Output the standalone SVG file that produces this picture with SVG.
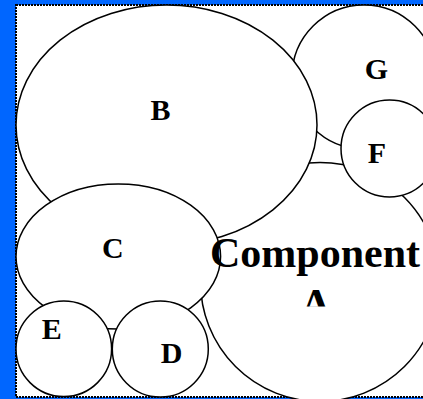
<svg xmlns="http://www.w3.org/2000/svg" width="423" height="399" viewBox="0 0 423 399">
<style>
.node{fill:#fff;stroke:#000;stroke-width:1.5}
.lbl{font-family:"Liberation Serif","Times New Roman",serif;font-weight:bold;fill:#000;text-anchor:middle}
.s{font-size:30px}
.big{font-size:42px}
</style>
<defs>
<clipPath id="clipA"><rect x="200" y="270" width="230" height="36.5"/></clipPath>
</defs>
<rect x="0" y="0" width="423" height="399" fill="#0066ff"/>
<rect x="16" y="5" width="420" height="392" fill="#fff"/>
<rect x="16" y="5" width="420" height="392" fill="none" stroke="#000" stroke-width="2" stroke-dasharray="2 1"/>
<g id="connectors"/>
<g id="node-G"><circle class="node" cx="364" cy="77" r="72"/></g>
<g id="node-A"><circle class="node" cx="320" cy="282" r="119.5"/></g>
<g id="node-B"><ellipse class="node" cx="166.5" cy="125" rx="150.5" ry="120"/></g>
<g id="node-F"><circle class="node" cx="389.5" cy="148.5" r="48.5"/></g>
<g id="node-C"><ellipse class="node" cx="118.3" cy="256.5" rx="102.3" ry="72.5"/></g>
<g id="node-E"><circle class="node" cx="63.8" cy="348.8" r="47.8"/></g>
<g id="node-D"><circle class="node" cx="160.3" cy="349" r="48"/></g>
<g id="labels">
<text id="label-B" class="lbl s" x="160.5" y="120">B</text>
<text id="label-G" class="lbl s" x="376.5" y="79">G</text>
<text id="label-F" class="lbl s" x="377" y="162.5">F</text>
<text id="label-C" class="lbl s" x="112.8" y="258">C</text>
<text id="label-E" class="lbl s" x="51.8" y="339">E</text>
<text id="label-D" class="lbl s" x="171.7" y="363">D</text>
<text id="label-A1" class="lbl big" x="315" y="267">Component</text>
<text id="label-A2" class="lbl big" x="316" y="318" clip-path="url(#clipA)">A</text>
</g>
</svg>
